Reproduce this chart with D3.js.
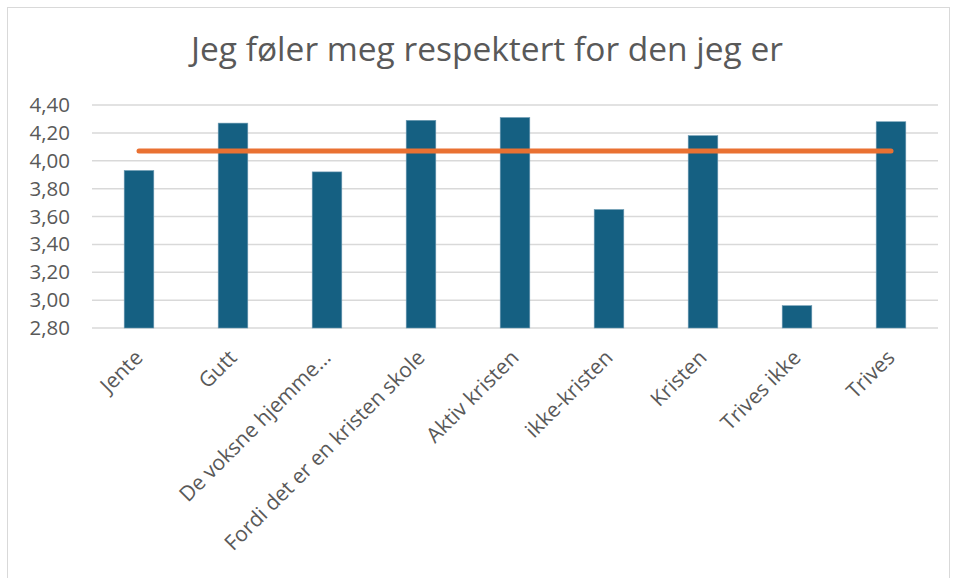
<!DOCTYPE html>
<html>
<head>
<meta charset='utf-8'>
<script src='https://d3js.org/d3.v7.min.js'></script>
<style>
body { margin: 0; background: #fff; }
text { font-family: 'Open Sans', 'Noto Sans', sans-serif; fill: #595959; }
</style>
</head>
<body>
<div id='chart'></div>
<script>
var categories = ['Jente', 'Gutt', 'De voksne hjemme…', 'Fordi det er en kristen skole',
  'Aktiv kristen', 'ikke-kristen', 'Kristen', 'Trives ikke', 'Trives'];
var values = [3.93, 4.27, 3.92, 4.29, 4.31, 3.65, 4.18, 2.96, 4.28];
var reference = [4.07, 4.07, 4.07, 4.07, 4.07, 4.07, 4.07, 4.07, 4.07];
var yTicks = [2.8, 3.0, 3.2, 3.4, 3.6, 3.8, 4.0, 4.2, 4.4];
var title = 'Jeg føler meg respektert for den jeg er';

var W = 957, H = 578;
var margin = {top: 105, right: 19, bottom: 250, left: 92};
var width = W - margin.left - margin.right,
    height = 328 - margin.top;
var font = "'Open Sans', 'Noto Sans', sans-serif";

var svg = d3.select('#chart').append('svg')
  .attr('width', W).attr('height', H);

svg.append('rect')
  .attr('x', 7.5).attr('y', 7.5)
  .attr('width', 942).attr('height', 600)
  .attr('fill', 'none').attr('stroke', '#d9d9d9').attr('stroke-width', 1);

svg.append('text')
  .attr('x', 487).attr('y', 61)
  .attr('text-anchor', 'middle')
  .style('font-size', '33.5px')
  .text(title);

var g = svg.append('g')
  .attr('transform', 'translate(' + margin.left + ',' + margin.top + ')');

var x = d3.scaleBand().domain(categories).range([0, width]).padding(0);
var y = d3.scaleLinear().domain([2.8, 4.4]).range([height, 0]);

// gridlines
g.selectAll('.grid').data(yTicks).enter().append('line')
  .attr('x1', 0).attr('x2', width)
  .attr('y1', function(d) { return y(d); })
  .attr('y2', function(d) { return y(d); })
  .attr('stroke', '#d9d9d9').attr('stroke-width', 1.5);

// y axis labels
var fmt = function(d) { return d3.format('.2f')(d).replace('.', ','); };
var yAxis = g.append('g')
  .call(d3.axisLeft(y).tickValues(yTicks).tickFormat(fmt).tickSize(0).tickPadding(22));
yAxis.select('.domain').remove();
yAxis.selectAll('text').style('font-size', '20.5px').attr('fill', '#595959')
  .style('font-family', font);

// bars
var bw = x.bandwidth() * 0.315;
g.selectAll('.bar').data(values).enter().append('rect')
  .attr('x', function(d, i) { return x(categories[i]) + x.bandwidth() / 2 - bw / 2; })
  .attr('y', function(d) { return y(d); })
  .attr('width', bw)
  .attr('height', function(d) { return height - y(d); })
  .attr('fill', '#156082')
  .attr('stroke', '#6d9bb3').attr('stroke-width', 0.6);

// reference line
var line = d3.line()
  .x(function(d, i) { return x(categories[i]) + x.bandwidth() / 2; })
  .y(function(d) { return y(d); });
g.append('path').datum(reference)
  .attr('d', line)
  .attr('fill', 'none')
  .attr('stroke', '#e97132')
  .attr('stroke-width', 5)
  .attr('stroke-linecap', 'round');

// x labels
var xAxis = g.append('g')
  .attr('transform', 'translate(0,' + height + ')')
  .call(d3.axisBottom(x).tickSize(0).tickPadding(0));
xAxis.select('.domain').remove();
xAxis.selectAll('text')
  .style('font-size', '21px')
  .style('font-family', font)
  .attr('fill', '#595959')
  .attr('text-anchor', 'end')
  .attr('dy', 0)
  .attr('transform', 'translate(5,31) rotate(-45)');
</script>
</body>
</html>
